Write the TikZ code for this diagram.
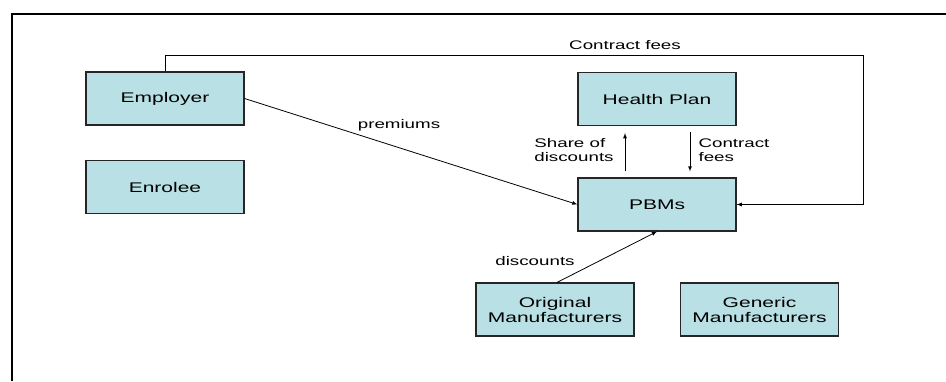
\documentclass[tikz,border=0pt]{standalone}
\usepackage{fontspec}
\setmainfont{Liberation Sans}
\newfontfamily\boxfont[FakeStretch=1.5]{Liberation Sans}
\usepackage{tikz}
\usetikzlibrary{arrows}

\definecolor{boxfill}{RGB}{185,224,228}

\begin{document}
\begin{tikzpicture}[x=1pt, y=-1pt, >=latex,
    party/.style={draw=black!85, line width=1.1pt, fill=boxfill, minimum width=158pt, minimum height=53pt,
        align=center, inner sep=0pt, font=\boxfont\fontsize{14}{15}\selectfont},
    flow/.style={font=\boxfont\fontsize{12.5}{14}\selectfont, inner sep=0pt}]
        \useasboundingbox (0,0) rectangle (946,381);
        \draw[line width=2.5pt] (12,381) -- (12,14) -- (946,14);

        \node[party] (employer) at (165, 98.5) {Employer};
        \node[party] (enrolee) at (165, 187) {Enrolee};
        \node[party] (plan) at (657, 99) {Health Plan};
        \node[party] (pbms) at (657, 204.5) {PBMs};
        \node[party] (orig) at (555, 309.5) {Original\\Manufacturers};
        \node[party] (generic) at (759.5, 309.5) {Generic\\Manufacturers};

        \coordinate (corner) at (863, 55);

        \draw[->, thick] (employer.north) |- (corner) |- (pbms.east);
        \draw[->, thick] (employer.east) -- (pbms.west);
        \draw[->, thick] ([xshift=-32pt, yshift=6pt]pbms.north) -- ([xshift=-32pt, yshift=-7pt]plan.south);
        \draw[->, thick] ([xshift=33pt, yshift=-6pt]plan.south) -- ([xshift=33pt, yshift=6pt]pbms.north);
        \draw[->, thick] ([xshift=2pt]orig.north) -- (pbms.south);

        \node[flow] (fees) at (625, 45) {Contract fees};
        \node[flow] (prem) at (399, 125) {premiums};
        \node[flow, align=left] (share) at (574, 150) {Share of\\discounts};
        \node[flow, align=left] (planfees) at (734, 150) {Contract\\fees};
        \node[flow] (disc) at (535, 261) {discounts};
\end{tikzpicture}
\end{document}
